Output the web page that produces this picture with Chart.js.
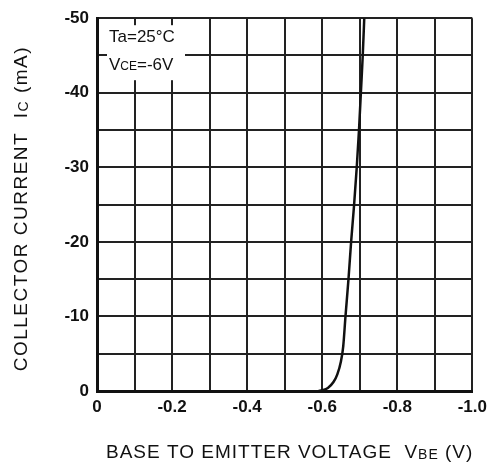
<!DOCTYPE html>
<html>
<head>
<meta charset="utf-8">
<script src="https://cdn.jsdelivr.net/npm/chart.js@4"></script>
<style>
  html, body { margin: 0; padding: 0; background: #fff; }
  #wrap { width: 493px; height: 465px; position: relative; }
</style>
</head>
<body>
<div id="wrap"><canvas id="vbeChart"></canvas></div>
<script>
// Ic vs Vbe
const vbeValues = [-0.59, -0.60, -0.615, -0.63, -0.64, -0.65, -0.656, -0.662, -0.67, -0.677, -0.685, -0.692, -0.698, -0.703, -0.708, -0.712];
const icValues  = [0, -0.1, -0.4, -1.2, -2.2, -4, -6, -10, -15, -20, -25, -30, -35, -40, -45, -50];

const xTickLabels = ['0', '-0.2', '-0.4', '-0.6', '-0.8', '-1.0'];
const yTickLabels = ['0', '-10', '-20', '-30', '-40', '-50'];

const conditionLines = ['Ta=25°C', 'VCE=-6V'];
const xTitle = ['BASE TO EMITTER VOLTAGE  V', 'BE', ' (V)'];
const yTitle = ['COLLECTOR CURRENT  I', 'C', ' (mA)'];

const FONT = '"Liberation Sans", Arial, sans-serif';

// draws text pieces where every 2nd piece is a smaller subscript run
function drawMixed(ctx, parts, x, y, big, small) {
    let total = 0;
    parts.forEach((p, i) => {
        ctx.font = (i % 2 ? small : big) + 'px ' + FONT;
        total += ctx.measureText(p).width;
    });
    let cx = x - total / 2;
    parts.forEach((p, i) => {
        ctx.font = (i % 2 ? small : big) + 'px ' + FONT;
        ctx.fillText(p, cx, y + (i % 2 ? 1 : 0));
        cx += ctx.measureText(p).width;
    });
}

const extras = {
    id: 'extras',
    afterDraw(chart) {
        const ctx = chart.ctx;
        const a = chart.chartArea;
        ctx.save();
        // condition box
        ctx.fillStyle = '#fff';
        ctx.fillRect(a.left + 10, a.top + 7, 78, 55);
        ctx.fillStyle = '#111';
        ctx.textBaseline = 'middle';
        ctx.textAlign = 'left';
        ctx.font = '17px ' + FONT;
        ctx.fillText(conditionLines[0], a.left + 12, a.top + 19);
        ctx.fillText('V', a.left + 12, a.top + 47);
        let w = ctx.measureText('V').width;
        ctx.font = '12px ' + FONT;
        ctx.fillText('CE', a.left + 12 + w, a.top + 48);
        w += ctx.measureText('CE').width;
        ctx.font = '17px ' + FONT;
        ctx.fillText('=-6V', a.left + 12 + w, a.top + 47);

        // axis titles
        ctx.textBaseline = 'alphabetic';
        ctx.letterSpacing = '1px';
        drawMixed(ctx, xTitle, (a.left + a.right) / 2 + 5, 458, 19, 14);
        ctx.translate(27, (a.top + a.bottom) / 2 + 4);
        ctx.rotate(-Math.PI / 2);
        ctx.letterSpacing = '1.5px';
        drawMixed(ctx, yTitle, 0, 0, 19, 14);
        ctx.restore();
    }
};

const ctx = document.getElementById('vbeChart').getContext('2d');
new Chart(ctx, {
    type: 'scatter',
    data: {
        datasets: [{
            data: vbeValues.map((v, i) => ({ x: v, y: icValues[i] })),
            showLine: true,
            borderColor: '#111',
            borderWidth: 2.5,
            pointRadius: 0,
            cubicInterpolationMode: 'monotone'
        }]
    },
    options: {
        responsive: true,
        maintainAspectRatio: false,
        animation: false,
        layout: { padding: { left: 0, top: 15, right: 20, bottom: 0 } },
        plugins: { legend: { display: false }, tooltip: { enabled: false } },
        scales: {
            x: {
                type: 'linear',
                min: -1, max: 0,
                reverse: true,
                border: { color: '#111', width: 3 },
                grid: { color: '#222', lineWidth: 2, drawTicks: false },
                ticks: {
                    stepSize: 0.1,
                    padding: 6,
                    color: '#111',
                    font: { family: FONT, size: 17, weight: 'bold' },
                    maxRotation: 0,
                    autoSkip: false,
                    callback: (v) => {
                        const k = Math.round(-v * 10);
                        return k % 2 === 0 ? xTickLabels[k / 2] : '';
                    }
                },
                afterFit: (s) => { s.height = 74; }
            },
            y: {
                type: 'linear',
                min: -50, max: 0,
                reverse: true,
                border: { color: '#111', width: 3 },
                grid: { color: '#222', lineWidth: 2, drawTicks: false },
                ticks: {
                    stepSize: 5,
                    padding: 8,
                    color: '#111',
                    font: { family: FONT, size: 17, weight: 'bold' },
                    autoSkip: false,
                    callback: (v) => {
                        const k = Math.round(-v / 5);
                        return k % 2 === 0 ? yTickLabels[k / 2] : '';
                    }
                },
                afterFit: (s) => { s.width = 97; }
            }
        }
    },
    plugins: [extras]
});
</script>
</body>
</html>
